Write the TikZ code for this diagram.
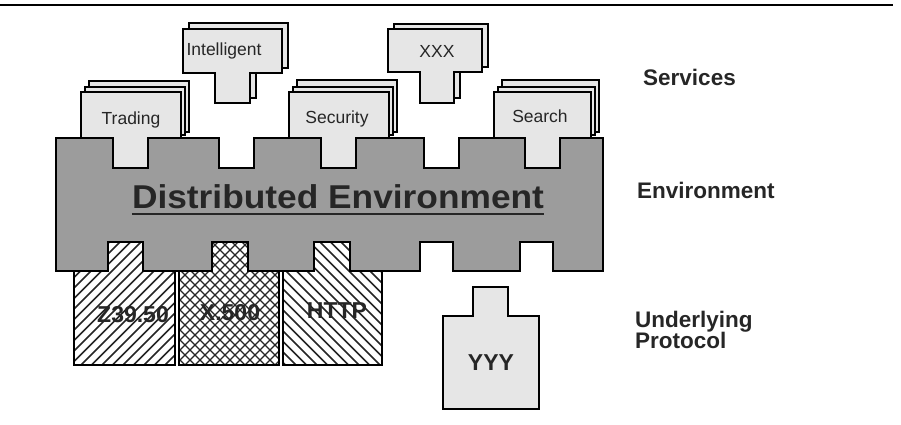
\documentclass[tikz,border=0pt]{standalone}
\usepackage{fontspec}
\setmainfont{Liberation Sans}

\definecolor{envgray}{HTML}{9C9C9C}
\definecolor{cardgray}{HTML}{E6E6E6}
\definecolor{ink}{HTML}{262626}

% T-shaped card: body [l,r]x[t,b], stem [sl,sr] down to sb
\newcommand\tcard[8]{%
  \draw[#1] (#2,#4) -- (#3,#4) -- (#3,#5) -- (#7,#5) -- (#7,#8)
            -- (#6,#8) -- (#6,#5) -- (#2,#5) -- cycle;}
% protocol block outline: box [l,r]x[t,b] with a tab [tl,tr] rising to tt
\newcommand\protopath[7]{(#1,#3) -- (#5,#3) -- (#5,#7) -- (#6,#7) -- (#6,#3)
            -- (#2,#3) -- (#2,#4) -- (#1,#4) -- cycle}

\begin{document}
\begin{tikzpicture}[x=1pt,y=-1pt,
  outline/.style={draw=black, line width=1.3pt, line join=miter},
  card/.style={outline, fill=cardgray},
  envblock/.style={outline, fill=envgray},
  hatchline/.style={line width=1.5pt, black!85},
  crossline/.style={line width=1.1pt, black!85},
  cardtext/.style={font=\fontsize{17.5}{20}\selectfont, text=ink, inner sep=0pt, anchor=base},
  prottext/.style={font=\fontsize{23}{24}\selectfont\bfseries, text=ink, inner sep=0pt, anchor=base},
  layertext/.style={font=\fontsize{22.5}{20}\selectfont\bfseries, text=ink, inner sep=0pt, anchor=base west},
]
\useasboundingbox (0,0) rectangle (901,424);

% rule across the top
\draw[line width=1.5pt] (0,5) -- (893,5);

% cards stacked behind the front services
\tcard{card}{189}{288}{23}{68}{221}{256}{98}
\tcard{card}{394}{488}{24}{67}{426}{460}{98}
\draw[card] (89,81) rectangle (189,132);
\draw[card] (85,87) rectangle (185,135);
\draw[card] (297,80) rectangle (397,132);
\draw[card] (293,87) rectangle (393,135);
\draw[card] (502,80) rectangle (599,132);
\draw[card] (498,87) rectangle (595,135);

% the distributed environment block with its sockets
\draw[envblock] (56,138) -- (113,138) -- (113,168) -- (148,168) -- (148,138)
  -- (219,138) -- (219,168) -- (254,168) -- (254,138)
  -- (321,138) -- (321,168) -- (356,168) -- (356,138)
  -- (424,138) -- (424,168) -- (459,168) -- (459,138)
  -- (525,138) -- (525,168) -- (560,168) -- (560,138)
  -- (603,138) -- (603,271)
  -- (553,271) -- (553,242) -- (520,242) -- (520,271)
  -- (453,271) -- (453,242) -- (420,242) -- (420,271)
  -- (350,271) -- (350,242) -- (314,242) -- (314,271)
  -- (248,271) -- (248,242) -- (212,242) -- (212,271)
  -- (143,271) -- (143,242) -- (108,242) -- (108,271)
  -- (56,271) -- cycle;

% front service cards
\tcard{card}{183}{282}{29}{73}{215}{250}{103}
\tcard{card}{388}{482}{29}{72}{420}{454}{103}
\tcard{card}{81}{181}{92}{138}{113}{148}{168}
\tcard{card}{289}{389}{92}{138}{321}{356}{168}
\tcard{card}{494}{591}{92}{138}{525}{560}{168}

\node[cardtext] (intelligent) at (224,55) {Intelligent};
\node[cardtext] (xxx) at (437,57) {XXX};
\node[cardtext] (trading) at (131,124) {Trading};
\node[cardtext] (security) at (337,123) {Security};
\node[cardtext] (search) at (540,122) {Search};

% underlying protocols plugged into the bottom sockets
% Z39.50: rising hatch
\fill[white] \protopath{74}{175}{271}{365}{108}{143}{242};
\begin{scope}
  \clip \protopath{74}{175}{271}{365}{108}{143}{242};
  \foreach \k in {0,...,28} \draw[hatchline] ({-60+10.5*\k},380) -- ++(150,-150);
\end{scope}
\draw[outline] \protopath{74}{175}{271}{365}{108}{143}{242};

% X.500: cross hatch
\fill[white] \protopath{179}{279}{271}{365}{212}{248}{242};
\begin{scope}
  \clip \protopath{179}{279}{271}{365}{212}{248}{242};
  \foreach \k in {0,...,30} {
    \draw[crossline] ({40+10*\k},380) -- ++(150,-150);
    \draw[crossline] ({40+10*\k},230) -- ++(150,150);
  }
\end{scope}
\draw[outline] \protopath{179}{279}{271}{365}{212}{248}{242};

% HTTP: falling hatch
\fill[white] \protopath{283}{382}{271}{365}{314}{350}{242};
\begin{scope}
  \clip \protopath{283}{382}{271}{365}{314}{350}{242};
  \foreach \k in {0,...,28} \draw[hatchline] ({140+10.5*\k},230) -- ++(150,150);
\end{scope}
\draw[outline] \protopath{283}{382}{271}{365}{314}{350}{242};

% YYY: a protocol not yet plugged in
\draw[card] \protopath{443}{539}{316}{409}{473}{508}{287};

\node[prottext] (z3950) at (133,322) {Z39.50};
\node[prottext] (x500) at (230,320) {X.500};
\node[prottext] (http) at (337,318) {HTTP};
\node[prottext] (yyy) at (491,370) {YYY};

% environment title, underlined
\node[font=\fontsize{33}{36}\selectfont\bfseries, text=ink, inner sep=0pt, anchor=base]
  (envtitle) at (338,208) {\scalebox{1.07}[1]{Distributed Environment}};
\draw[line width=2pt, ink] ([yshift=-6pt]envtitle.base west) -- ([yshift=-6pt]envtitle.base east);

% layer labels
\node[layertext] (services) at (643,85) {Services};
\node[layertext] (environment) at (637,198) {Environment};
\node[layertext] (underlying) at (635,327) {Underlying};
\node[layertext] (protocol) at (635,348) {Protocol};
\end{tikzpicture}
\end{document}
